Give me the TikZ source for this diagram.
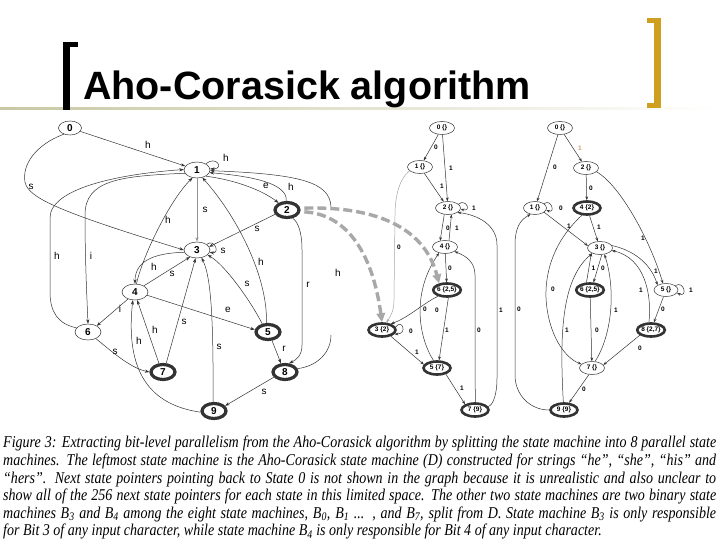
\documentclass[tikz,border=0pt]{standalone}
\usepackage{fontspec}
\setmainfont{Liberation Serif}
\setsansfont{Liberation Sans}
\newfontfamily\capfont[FakeStretch=0.85]{Liberation Serif}
\usetikzlibrary{shapes.geometric,arrows.meta}
\definecolor{ln}{HTML}{333333}
\definecolor{goldb}{HTML}{CFA020}
\definecolor{dashg}{HTML}{A8A8A8}
\definecolor{rulec}{HTML}{C8C8A4}
\definecolor{lbrown}{HTML}{C8A060}
\begin{document}
\begin{tikzpicture}[x=1pt,y=-1pt,
  st/.style={ellipse,draw=ln,line width=0.5pt,inner sep=0pt,minimum width=26pt,minimum height=16pt,font=\sffamily\bfseries\fontsize{10}{10}\selectfont},
  acc/.style={st,line width=3.2pt,minimum width=24pt,minimum height=15pt},
  bst/.style={ellipse,draw=ln,line width=0.5pt,inner sep=0pt,minimum width=25pt,minimum height=13pt,font=\sffamily\bfseries\fontsize{6.5}{6.5}\selectfont},
  bacc/.style={bst,line width=2.6pt,minimum width=27pt,minimum height=13pt},
  ed/.style={draw=ln,line width=0.5pt,-{Stealth[length=4.5pt,width=3.2pt]}},
  bed/.style={draw=ln,line width=0.5pt,-{Stealth[length=3.8pt,width=2.8pt]}},
  plainline/.style={draw=ln,line width=0.5pt},
  lbl/.style={font=\sffamily\fontsize{10}{10}\selectfont,inner sep=0pt},
  blbl/.style={font=\sffamily\bfseries\fontsize{6.5}{6.5}\selectfont,inner sep=0pt},
  gdash/.style={draw=dashg,line width=3.4pt,dash pattern=on 9pt off 4pt,-{Triangle[length=9pt,width=8.5pt]}}
]
\useasboundingbox (0,0) rectangle (720,540);
\fill[white] (0,0) rectangle (720,540);

% ---------- title ----------
\shade[left color=rulec,right color=white] (0,107.5) rectangle (720,109.5);
\fill[black] (63,42) rectangle (70,110);
\fill[black] (63,42) rectangle (78,47);
\fill[goldb] (654,18) rectangle (661,108);
\fill[goldb] (647,18) rectangle (661,23);
\fill[goldb] (647,103) rectangle (661,108);
\node[anchor=base west,inner sep=0pt,font=\sffamily\bfseries\fontsize{39.5}{40}\selectfont] (title) at (83,100) {Aho-Corasick algorithm};

% ---------- left graph (D) ----------
\node[st,minimum width=23pt,minimum height=14pt] (n0) at (70,128) {0};
\node[st] (n1) at (197,170) {1};
\node[acc] (n2) at (287,210) {2};
\node[st] (n3) at (197,250) {3};
\node[st] (n4) at (135,292) {4};
\node[acc] (n5) at (268,332) {5};
\node[st] (n6) at (88,332) {6};
\node[acc] (n7) at (163,372) {7};
\node[acc] (n8) at (285,372) {8};
\node[acc] (n9) at (214,411) {9};

\draw[ed] (n0) -- (n1);
\draw[ed] (n0.225) .. controls (35,145) and (22,165) .. (25,182) .. controls (28,198) and (60,212) .. (n3.west);
\draw[ed] (n1.35) .. controls (216,155) and (225,169) .. (n1.5);
\draw[ed] (n1.-35) .. controls (235,180) and (262,190) .. (n2.140);
\draw[ed] (n2.95) .. controls (288,183) and (250,176) .. (n1.-12);
\coordinate (c81t) at (331,207);
\coordinate (c81b) at (331,335);
\draw[ed] (c81t) .. controls (330,182) and (300,174) .. (n1.-3);
\draw[plainline] (n8.15) .. controls (318,366) and (331,352) .. (c81b);
\draw[ed,draw=gray!85,line width=1pt] (n1) -- (n3);
\draw[ed] (n1.195) .. controls (120,176) and (85,180) .. (85,215) .. controls (85,260) and (87,300) .. (n6.north);
\draw[ed] (n6.160) .. controls (58,324) and (50,312) .. (50,292) -- (50,218) .. controls (50,188) and (120,174) .. (n1.178);
\draw[ed] (n2.200) -- (n3.15);
\draw[ed] (n2.-55) .. controls (298,222) and (302,232) .. (302,250) -- (302,345) .. controls (302,356) and (296,360) .. (n8.65);
\draw[ed] (n3.30) .. controls (215,238) and (220,254) .. (n3.-10);
\draw[ed] (n3.190) .. controls (160,253) and (135,258) .. (n4.north);
\draw[ed] (n4.35) -- (n3.225);
\draw[ed] (n4.80) .. controls (143,255) and (170,200) .. (n1.240);
\draw[ed] (n4.-15) -- (n5.170);
\draw[ed] (n4.225) -- (n6.35);
\draw[ed] (n5.100) .. controls (268,280) and (240,220) .. (n1.-55);
\draw[ed] (n5.125) .. controls (250,300) and (225,265) .. (n3.-25);
\draw[ed] (n5.-65) -- (n8.115);
\draw[ed] (n6.-40) .. controls (110,350) and (130,368) .. (n7.west);
\draw[ed] (n7.115) -- (n4.-75);
\draw[ed] (n7.70) -- (n3.-100);
\draw[ed] (n9.185) .. controls (150,405) and (125,372) .. (n4.-105);
\draw[ed] (n9.95) .. controls (213,340) and (213,280) .. (n3.-60);
\draw[ed] (n8.205) -- (n9.25);

\node[lbl] (l01) at (148,145) {h};
\node[lbl] (l03) at (31,187) {s};
\node[lbl] (l11) at (226,158) {h};
\node[lbl] (l12) at (266,186) {e};
\node[lbl] (l21) at (291,187) {h};
\node[lbl] (l81) at (338,273) {h};
\node[lbl] (l13) at (205,210) {s};
\node[lbl] (l16) at (91,256) {i};
\node[lbl] (l61) at (57,256) {h};
\node[lbl] (l23) at (257,229) {s};
\node[lbl] (l28) at (308,285) {r};
\node[lbl] (l33) at (223,251) {s};
\node[lbl] (l34) at (154,267) {h};
\node[lbl] (l43) at (172,274) {s};
\node[lbl] (l41) at (168,220) {h};
\node[lbl] (l45) at (228,310) {e};
\node[lbl] (l46) at (120,309) {i};
\node[lbl] (l51) at (261,262) {h};
\node[lbl] (l53) at (247,284) {s};
\node[lbl] (l58) at (284,349) {r};
\node[lbl] (l67) at (115,352) {s};
\node[lbl] (l74) at (155,330) {h};
\node[lbl] (l73) at (184,322) {s};
\node[lbl] (l94) at (139,341) {h};
\node[lbl] (l93) at (219,347) {s};
\node[lbl] (l89) at (264,392) {s};

% ---------- middle graph (B3) ----------
\node[bst] (m0) at (442,128) {0 \{\}};
\node[bst] (m1) at (420,167) {1 \{\}};
\node[bst] (m2) at (448,208) {2 \{\}};
\node[bst] (m4) at (445,247) {4 \{\}};
\node[bacc] (m6) at (447,290) {6 \{2,5\}};
\node[bacc] (m3) at (382,330) {3 \{2\}};
\node[bacc] (m5) at (437,368) {5 \{7\}};
\node[bacc] (m7) at (475,410) {7 \{9\}};

\draw[bed] (m0) -- (m1);
\draw[bed] (m0) -- (m2);
\draw[bed] (m1) -- (m2);
\draw[bed,draw=gray!70] (m1.200) .. controls (400,178) and (395,195) .. (395,215) -- (394,300) .. controls (394,310) and (391,316) .. (m3.60);
\draw[bed] (m2.20) .. controls (466,198) and (472,212) .. (m2.-5);
\draw[bed] (m2.-120) -- (m4.128);
\draw[bed] (m4.58) -- (m2.-62);
\draw[bed] (m4) -- (m6);
\draw[bed] (m6.215) .. controls (425,302) and (408,318) .. (m3.35);
\draw[bed] (m3.12) .. controls (402,318) and (408,334) .. (m3.-18);
\draw[bed] (m3.-35) -- (m5.165);
\draw[bed] (m6.-80) -- (m5.75);
\draw[bed] (m5.115) .. controls (420,340) and (410,295) .. (m4.225);
\draw[bed] (m5.-35) -- (m7.150);
\draw[bed] (m7.88) -- (475,275) .. controls (475,262) and (466,256) .. (m4.-25);
\draw[bed] (m7.15) .. controls (493,405) and (497,395) .. (497,378) -- (497,245) .. controls (497,225) and (478,215) .. (m2.-25);

\node[blbl] (k01) at (436,147) {0};
\node[blbl] (k02) at (451,168) {1};
\node[blbl] (k12) at (442,186) {1};
\node[blbl] (k13) at (399,247) {0};
\node[blbl] (k22) at (474,208) {1};
\node[blbl] (k24) at (448,228) {0};
\node[blbl] (k42) at (457,228) {1};
\node[blbl] (k46) at (450,268) {0};
\node[blbl] (k63) at (437,310) {0};
\node[blbl] (k33) at (411,331) {0};
\node[blbl] (k35) at (417,352) {1};
\node[blbl] (k65) at (447,330) {1};
\node[blbl] (k54) at (425,309) {0};
\node[blbl] (k57) at (462,388) {1};
\node[blbl] (k74) at (479,330) {0};
\node[blbl] (k72) at (501,310) {1};

% ---------- right graph (B4) ----------
\node[bst] (r0) at (560,128) {0 \{\}};
\node[bst] (r2) at (586,168) {2 \{\}};
\node[bst,minimum width=23pt] (r1) at (535,208) {1 \{\}};
\node[bacc] (r4) at (587,208) {4 \{2\}};
\node[bst] (r3) at (600,248) {3 \{\}};
\node[bacc] (r6) at (590,290) {6 \{2,5\}};
\node[bst,minimum width=24pt] (r5) at (666,290) {5 \{\}};
\node[bacc] (r8) at (651,330) {8 \{2,7\}};
\node[bst] (r7) at (592,368) {7 \{\}};
\node[bacc] (r9) at (564,410) {9 \{9\}};

\draw[bed] (r0) -- (r1);
\draw[bed] (r0) -- (r2);
\draw[bed] (r1.25) .. controls (551,198) and (556,214) .. (r1.-10);
\draw[bed] (r2) -- (r4);
\draw[bed] (r2.-20) .. controls (620,185) and (650,240) .. (r5.115);
\draw[bed] (r1.-25) -- (r3.170);
\draw[bed] (r4) -- (r3);
\draw[bed] (r4.-125) .. controls (555,240) and (545,270) .. (546,298) .. controls (548,335) and (565,358) .. (r7.160);
\draw[bed] (r9.west) .. controls (530,410) and (515,395) .. (515,375) -- (515,245) .. controls (515,228) and (520,220) .. (r1.-125);
\draw[bed] (r9.95) .. controls (560,340) and (560,280) .. (r3.215);
\draw[bed] (r6.115) -- (r3.-150);
\draw[bed] (r3.-75) -- (r6.65);
\draw[bed] (r6) -- (r7);
\draw[bed] (r7.65) .. controls (612,335) and (616,290) .. (r3.-55);
\draw[bed] (r3.12) .. controls (632,250) and (650,262) .. (r5.150);
\draw[bed] (r8.105) .. controls (652,295) and (645,258) .. (r3.-12);
\draw[bed] (r5.25) .. controls (684,280) and (688,298) .. (r5.-15);
\draw[bed] (r5) -- (r8);
\draw[bed] (r8.205) -- (r7.15);
\draw[bed] (r7.-115) -- (r9.55);

\node[blbl] (q01) at (555,167) {0};
\node[blbl,text=lbrown] (q02) at (580,148) {1};
\node[blbl] (q11) at (561,208) {0};
\node[blbl] (q24) at (591,188) {0};
\node[blbl] (q25) at (643,238) {1};
\node[blbl] (q13) at (569,226) {1};
\node[blbl] (q43) at (599,227) {1};
\node[blbl] (q47) at (553,289) {0};
\node[blbl] (q91) at (519,309) {0};
\node[blbl] (q93) at (567,330) {1};
\node[blbl] (q63) at (593.5,268) {1};
\node[blbl] (q36) at (603,268) {0};
\node[blbl] (q67) at (597,330) {0};
\node[blbl] (q73) at (616,310) {1};
\node[blbl] (q35) at (656,271) {1};
\node[blbl] (q83) at (641,290) {1};
\node[blbl] (q55) at (691,290) {1};
\node[blbl] (q58) at (663,309) {0};
\node[blbl] (q87) at (640,348) {0};
\node[blbl] (q79) at (584,389) {0};

% ---------- gray dashed arrows ----------
\draw[gdash] ([xshift=4pt]n2.8) .. controls (380,206) and (425,230) .. (m6.140);
\draw[gdash] ([xshift=4pt]n2.-8) .. controls (345,214) and (372,250) .. (m3.north);

% ---------- caption ----------
\node[anchor=north west,inner sep=0pt,align=left,font=\capfont\itshape\fontsize{16.5}{17.6}\selectfont] (cap) at (3,436) {%
\makebox[713pt][s]{Figure 3: Extracting bit-level parallelism from the Aho-Corasick algorithm by splitting the state machine into 8 parallel state}\\
\makebox[713pt][s]{machines. The leftmost state machine is the Aho-Corasick state machine (D) constructed for strings “he”, “she”, “his” and}\\
\makebox[713pt][s]{“hers”. Next state pointers pointing back to State 0 is not shown in the graph because it is unrealistic and also unclear to}\\
\makebox[713pt][s]{show all of the 256 next state pointers for each state in this limited space. The other two state machines are two binary state}\\
\makebox[713pt][s]{machines B\textsubscript{3} and B\textsubscript{4} among the eight state machines, B\textsubscript{0}, B\textsubscript{1} ... , and B\textsubscript{7}, split from D. State machine B\textsubscript{3} is only responsible}\\
for Bit 3 of any input character, while state machine B\textsubscript{4} is only responsible for Bit 4 of any input character.};
\end{tikzpicture}
\end{document}
